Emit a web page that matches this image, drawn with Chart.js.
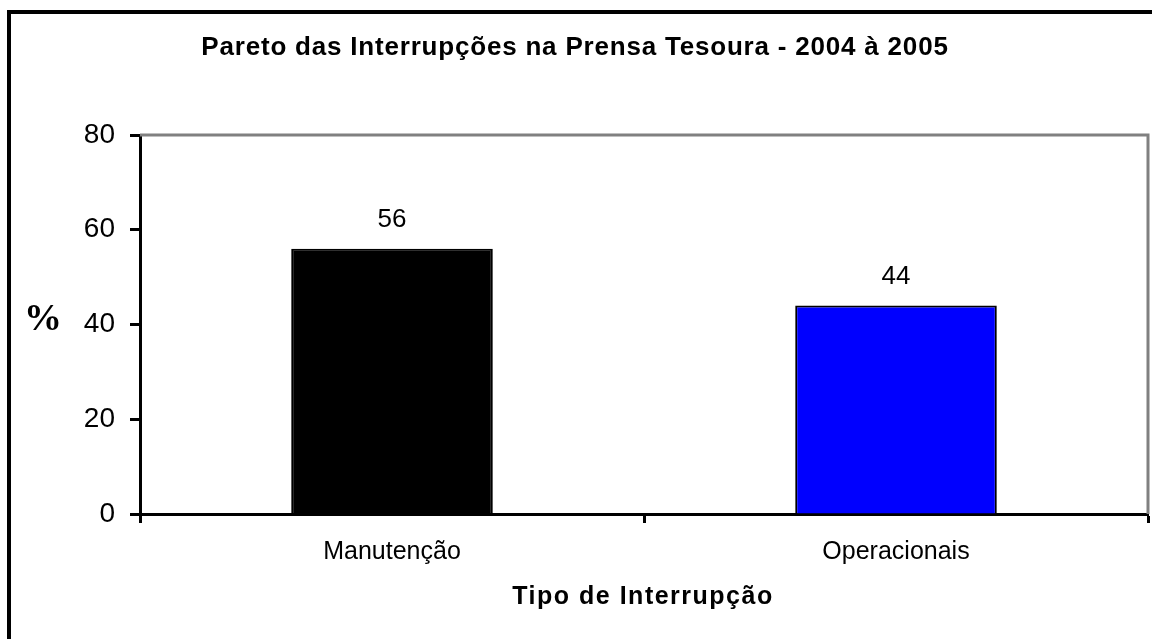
<!DOCTYPE html>
<html>
<head>
<meta charset="utf-8">
<script src="https://cdn.jsdelivr.net/npm/chart.js@4/dist/chart.umd.min.js"></script>
<style>
  html, body { margin: 0; padding: 0; background: #fff; }
  #wrap { width: 1152px; height: 639px; }
</style>
</head>
<body>
<div id="wrap"><canvas id="c" width="1152" height="639"></canvas></div>
<script>
const chartTitle = 'Pareto das Interrupções na Prensa Tesoura - 2004 à 2005';
const xAxisTitle = 'Tipo de Interrupção';
const yAxisTitle = '%';
const categories = ['Manutenção', 'Operacionais'];
const values = [56, 44];
const barColors = ['#000000', '#0000ff'];
const yTicks = [0, 20, 40, 60, 80];

const SANS = '"Liberation Sans", Arial, sans-serif';

const decor = {
  id: 'decor',
  beforeDraw(chart) {
    const ctx = chart.ctx;
    ctx.save();
    ctx.fillStyle = '#fff';
    ctx.fillRect(0, 0, chart.width, chart.height);
    ctx.restore();
  },
  afterDraw(chart) {
    const ctx = chart.ctx;
    const a = chart.chartArea;
    ctx.save();
    // outer frame (top and left)
    ctx.strokeStyle = '#000';
    ctx.lineWidth = 4;
    ctx.beginPath();
    ctx.moveTo(9, 639);
    ctx.lineTo(9, 12);
    ctx.lineTo(1152, 12);
    ctx.stroke();
    // plot area gray border (top, right)
    ctx.strokeStyle = '#808080';
    ctx.lineWidth = 3;
    ctx.beginPath();
    ctx.moveTo(a.left, a.top);
    ctx.lineTo(a.right, a.top);
    ctx.lineTo(a.right, a.bottom);
    ctx.stroke();
    ctx.fillStyle = '#000';
    ctx.textAlign = 'center';
    ctx.textBaseline = 'alphabetic';
    // title
    ctx.font = 'bold 26px ' + SANS;
    ctx.letterSpacing = '0.8px';
    ctx.fillText(chartTitle, 575, 55);
    // x axis title
    ctx.font = 'bold 25px ' + SANS;
    ctx.letterSpacing = '1.5px';
    ctx.fillText(xAxisTitle, 643, 604);
    ctx.letterSpacing = '0px';
    // y axis title
    ctx.textBaseline = 'middle';
    ctx.font = 'bold 38px "Liberation Serif", "Times New Roman", serif';
    ctx.fillText(yAxisTitle, 43, 320);
    // data labels
    ctx.font = '26px ' + SANS;
    const meta = chart.getDatasetMeta(0);
    meta.data.forEach((bar, i) => {
      ctx.fillText(String(values[i]), bar.x, bar.y - 29);
    });
    ctx.restore();
  }
};

new Chart(document.getElementById('c'), {
  type: 'bar',
  data: {
    labels: categories,
    datasets: [{
      data: values,
      backgroundColor: barColors,
      borderColor: '#000',
      borderWidth: 2,
      barPercentage: 0.8,
      categoryPercentage: 0.5
    }]
  },
  options: {
    responsive: false,
    animation: false,
    layout: { padding: { left: 0, top: 135, right: 4, bottom: 0 } },
    plugins: {
      legend: { display: false },
      title: { display: false },
      tooltip: { enabled: false }
    },
    scales: {
      y: {
        min: 0,
        max: 80,
        afterBuildTicks(scale) { scale.ticks = yTicks.map(v => ({ value: v })); },
        afterFit(scale) { scale.width = 140; },
        ticks: {
          color: '#000',
          padding: 15,
          font: { size: 28, family: SANS }
        },
        grid: {
          drawOnChartArea: false,
          drawTicks: true,
          tickLength: 10,
          tickWidth: 3,
          tickColor: '#000'
        },
        border: { display: true, color: '#000', width: 3 }
      },
      x: {
        afterFit(scale) { scale.height = 639 - 514; },
        ticks: {
          color: '#000',
          padding: 14,
          font: { size: 25, family: SANS }
        },
        grid: {
          offset: true,
          drawOnChartArea: false,
          drawTicks: true,
          tickLength: 9,
          tickWidth: 3,
          tickColor: '#000'
        },
        border: { display: true, color: '#000', width: 3 }
      }
    }
  },
  plugins: [decor]
});
</script>
</body>
</html>
